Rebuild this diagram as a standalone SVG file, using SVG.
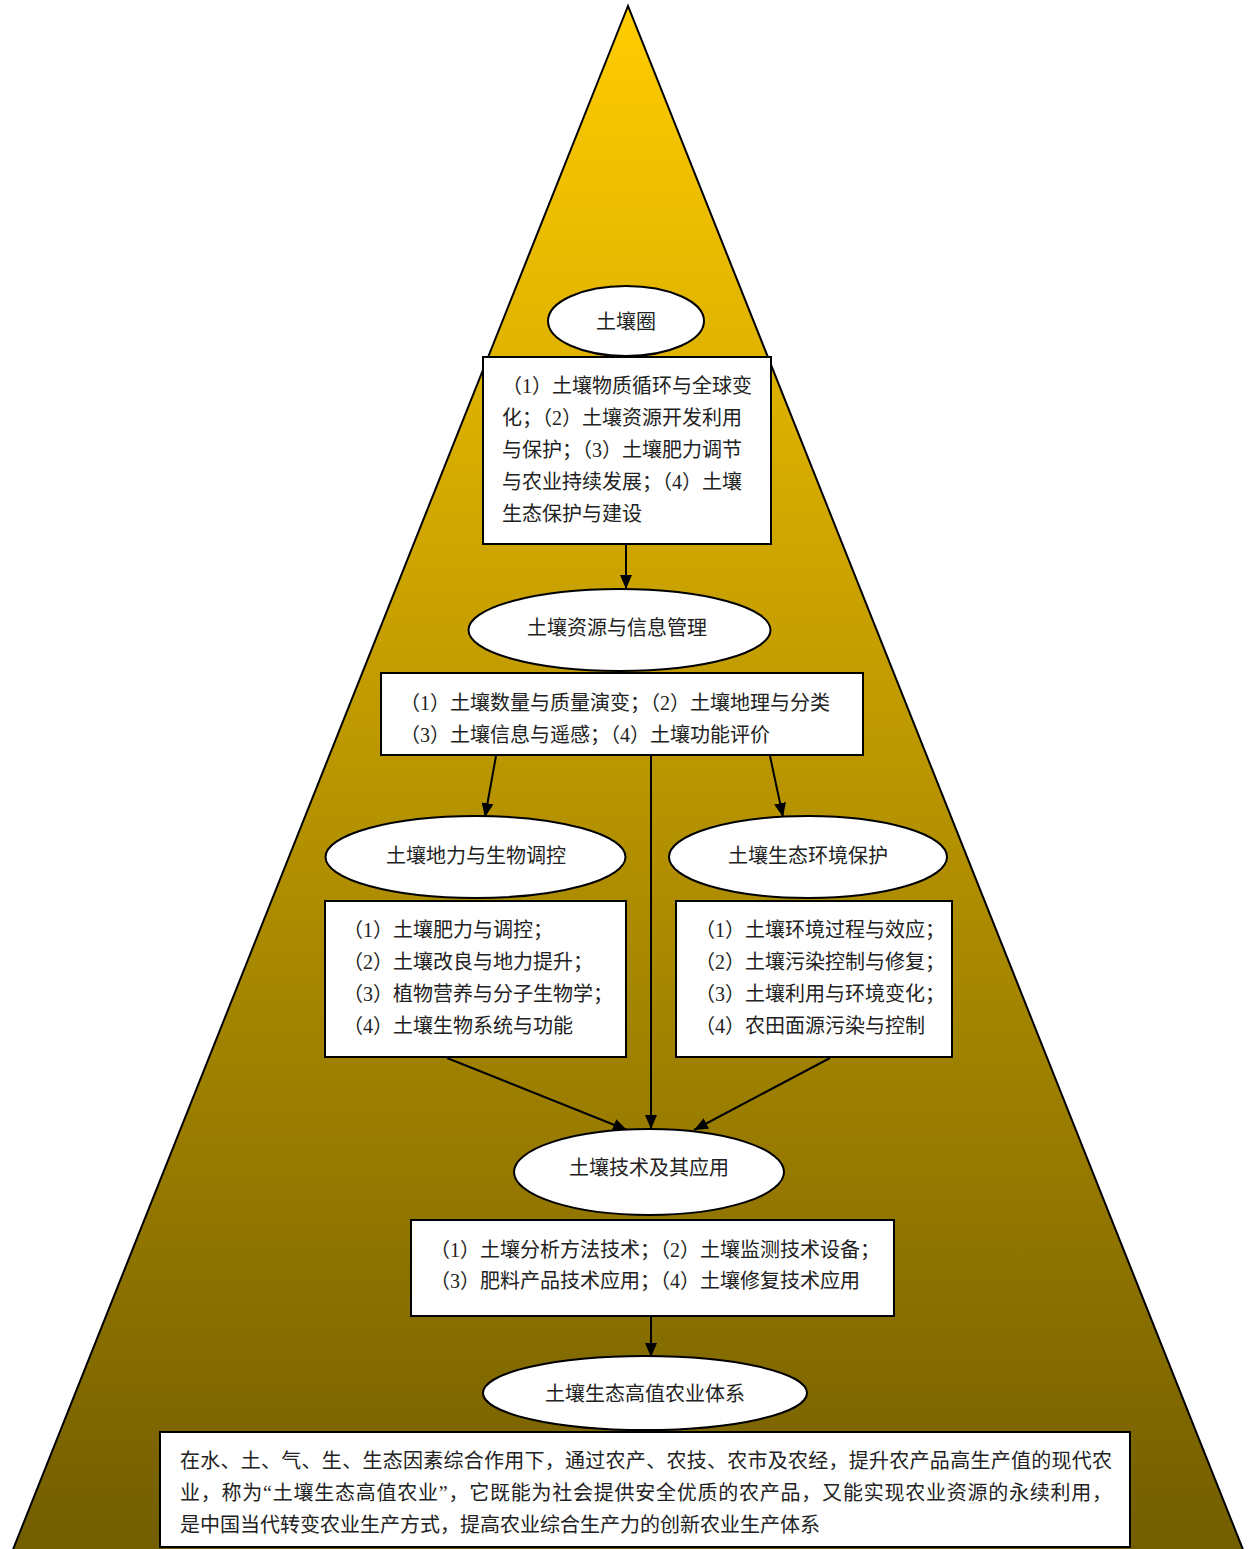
<svg xmlns="http://www.w3.org/2000/svg" width="1254" height="1549" viewBox="0 0 1254 1549">
<style>
.t{font-family:"Liberation Serif","Noto Sans CJK SC",serif;font-size:20px;fill:#222}
.c{text-anchor:middle}
.n{fill:#fff;stroke:#000;stroke-width:2}
.e{stroke:#000;stroke-width:2;fill:none}
</style>
<defs>
<linearGradient id="g" gradientUnits="userSpaceOnUse" x1="0" y1="6" x2="0" y2="1549">
<stop offset="0" stop-color="#FFCC00"/>
<stop offset="1" stop-color="#735E00"/>
</linearGradient>
<marker id="a" markerUnits="userSpaceOnUse" markerWidth="14" markerHeight="12" refX="14" refY="6" orient="auto">
<path d="M0,0 L14,6 L0,12 Z" fill="#000"/>
</marker>
</defs>
<rect width="1254" height="1549" fill="#fff"/>
<polygon points="628,6 12,1552 1244,1552" fill="url(#g)" stroke="#000" stroke-width="2"/>
<g id="connectors">
<line class="e" x1="626" y1="544" x2="626" y2="589" marker-end="url(#a)"/>
<line class="e" x1="496" y1="756" x2="485" y2="817" marker-end="url(#a)"/>
<line class="e" x1="770" y1="756" x2="783" y2="817" marker-end="url(#a)"/>
<line class="e" x1="651" y1="756" x2="651" y2="1129" marker-end="url(#a)"/>
<line class="e" x1="447" y1="1058" x2="627" y2="1130" marker-end="url(#a)"/>
<line class="e" x1="830" y1="1058" x2="694" y2="1130" marker-end="url(#a)"/>
<line class="e" x1="651" y1="1316" x2="651" y2="1357" marker-end="url(#a)"/>
</g>
<g id="n1"><ellipse class="n" cx="626" cy="321" rx="78" ry="35"/><text class="t c" x="626" y="329">土壤圈</text></g>
<g id="b1"><rect class="n" x="483" y="357" width="288" height="187"/>
<text class="t" x="502" y="393">（1）土壤物质循环与全球变</text>
<text class="t" x="502" y="425">化；（2）土壤资源开发利用</text>
<text class="t" x="502" y="457">与保护；（3）土壤肥力调节</text>
<text class="t" x="502" y="489">与农业持续发展；（4）土壤</text>
<text class="t" x="502" y="521">生态保护与建设</text></g>
<g id="n2"><ellipse class="n" cx="619.5" cy="630" rx="151" ry="41"/><text class="t c" x="617" y="635">土壤资源与信息管理</text></g>
<g id="b2"><rect class="n" x="381" y="673" width="482" height="82"/>
<text class="t" x="400" y="710">（1）土壤数量与质量演变；（2）土壤地理与分类</text>
<text class="t" x="400" y="742">（3）土壤信息与遥感；（4）土壤功能评价</text></g>
<g id="n3"><ellipse class="n" cx="475.5" cy="857" rx="150" ry="41"/><text class="t c" x="476" y="863">土壤地力与生物调控</text></g>
<g id="n4"><ellipse class="n" cx="808" cy="857" rx="139" ry="41"/><text class="t c" x="808" y="863">土壤生态环境保护</text></g>
<g id="b3"><rect class="n" x="325" y="901" width="301" height="156"/>
<text class="t" x="343" y="937">（1）土壤肥力与调控；</text>
<text class="t" x="343" y="969">（2）土壤改良与地力提升；</text>
<text class="t" x="343" y="1001">（3）植物营养与分子生物学；</text>
<text class="t" x="343" y="1033">（4）土壤生物系统与功能</text></g>
<g id="b4"><rect class="n" x="676" y="901" width="276" height="156"/>
<text class="t" x="695" y="937">（1）土壤环境过程与效应；</text>
<text class="t" x="695" y="969">（2）土壤污染控制与修复；</text>
<text class="t" x="695" y="1001">（3）土壤利用与环境变化；</text>
<text class="t" x="695" y="1033">（4）农田面源污染与控制</text></g>
<g id="n5"><ellipse class="n" cx="649" cy="1172" rx="135" ry="43"/><text class="t c" x="649" y="1175">土壤技术及其应用</text></g>
<g id="b5"><rect class="n" x="411" y="1220" width="483" height="96"/>
<text class="t" x="430" y="1257">（1）土壤分析方法技术；（2）土壤监测技术设备；</text>
<text class="t" x="430" y="1288">（3）肥料产品技术应用；（4）土壤修复技术应用</text></g>
<g id="n6"><ellipse class="n" cx="645" cy="1393" rx="162" ry="37"/><text class="t c" x="645" y="1401">土壤生态高值农业体系</text></g>
<g id="b6"><rect class="n" x="160" y="1432" width="970" height="115"/>
<text class="t" x="180" y="1468" textLength="932">在水、土、气、生、生态因素综合作用下，通过农产、农技、农市及农经，提升农产品高生产值的现代农</text>
<text class="t" x="180" y="1500" textLength="932">业，称为“土壤生态高值农业”，它既能为社会提供安全优质的农产品，又能实现农业资源的永续利用，</text>
<text class="t" x="180" y="1532">是中国当代转变农业生产方式，提高农业综合生产力的创新农业生产体系</text></g>
</svg>
